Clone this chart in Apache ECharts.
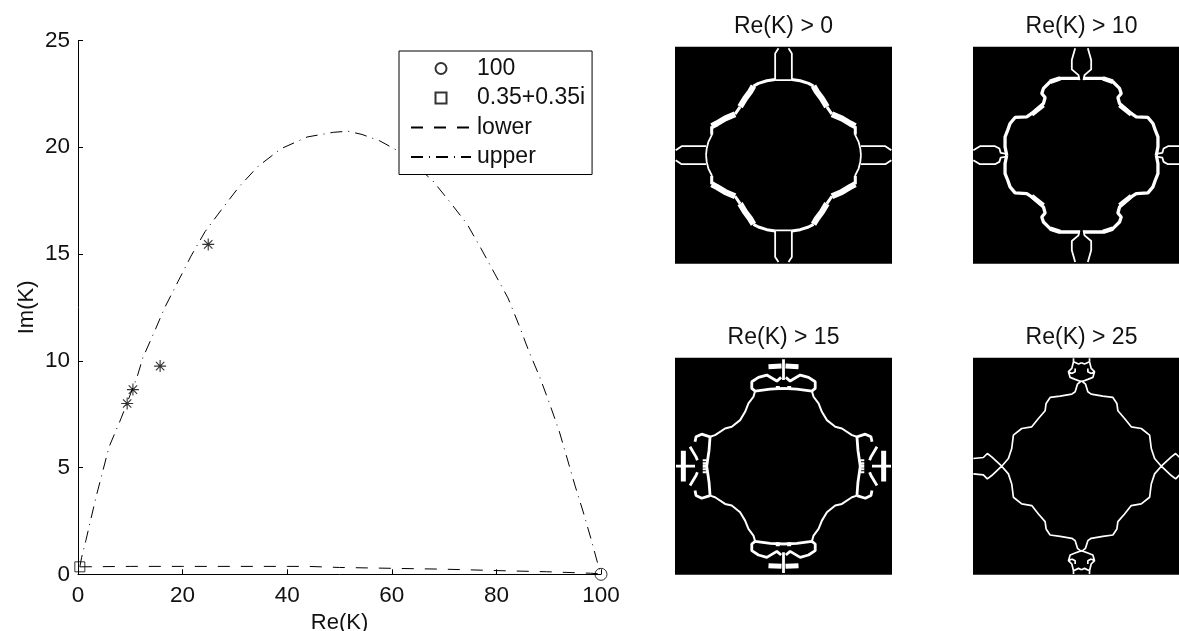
<!DOCTYPE html>
<html><head><meta charset="utf-8">
<style>html,body{margin:0;padding:0;background:#fff;overflow:hidden}#c{width:1179px;height:631px}</style>
<script src="https://cdn.jsdelivr.net/npm/echarts@6/dist/echarts.min.js"></script>
</head><body><div id="c"></div>
<script>
// Main plot: [Re(K), Im(K)]
const upperCurve = [[0.35,0.35],[0.7,0.8],[1.5,1.58],[3.44,3.61],[5.93,5.96],[8.2,7.28],[11.3,9.24],[12.4,10.14],[14.5,11.3],[16.6,12.5],[19.1,13.7],[21.6,14.9],[24.3,16.05],[27.5,17.1],[30.8,18.15],[34.4,19.1],[38.8,19.93],[43.8,20.48],[48.8,20.7],[51.6,20.75],[54.3,20.6],[57.7,20.3],[61.2,19.83],[67.7,18.47],[71.1,17.44],[74.4,16.4],[77.1,15.24],[79.7,14.07],[82.2,12.95],[84.3,11.68],[86.2,10.45],[88.3,9.23],[90.2,7.97],[92,6.71],[93.5,5.45],[95,4.18],[96.6,2.92],[98.1,1.65],[99.6,0.3],[100,0.05]];
const lowerCurve = [[0.35,0.35],[10,0.37],[20,0.37],[30,0.37],[40,0.37],[44,0.37],[50,0.32],[60,0.28],[70,0.24],[80.7,0.17],[89.6,0.12],[98,0.05],[100,0.02]];
const starPoints = [[9.4,8.0],[10.5,8.65],[15.7,9.75],[24.9,15.45]];
const circlePoint = [[100,0]];
const squarePoint = [[0.35,0.35]];
const panelTitles = ['Re(K) > 0','Re(K) > 10','Re(K) > 15','Re(K) > 25'];

// Right-hand panels: one quadrant of the white boundary
const p1Thin = [
  [[0,-225],[-25,-225]],
  [[-215,-87],[-215,-60],[-225,-40],[-230,-20],[-232,0]],
  [[-25,-227],[-25,-305],[-15,-320]],
  [[-232,-27],[-305,-27],[-323,-15]]
];
const p1Mid = [
  [[-25,-227],[-50,-223],[-75,-215],[-90,-207]],
  [[-130,-145],[-145,-123]],
  [[-215,-87],[-215,-62]]
];
const p1Thick = [
  [[-90,-207],[-100,-190],[-115,-170],[-130,-145]],
  [[-145,-123],[-175,-110],[-200,-95],[-215,-87]]
];
const p2Thin = [
  [[-19,-320],[-29,-285],[-29,-257],[-9,-240],[-6,-225]],
  [[-324,-15],[-304,-27],[-259,-27],[-246,-20],[-242,-7],[-229,-5]]
];
const p2Mid = [
  [[-6,-230],[-64,-230],[-94,-220],[-114,-200],[-119,-185],[-109,-173],[-114,-155],[-149,-125],[-164,-115],[-199,-113],[-214,-95],[-221,-75],[-229,-55],[-229,-25],[-224,0]]
];
const p2Thick = [
  [[-64,-230],[-94,-220]],
  [[-114,-150],[-149,-122]]
];
const p3Thin = [
  [[-85,-225],[-90,-208],[-105,-188],[-115,-163],[-130,-138],[-155,-118],[-175,-113],[-205,-93],[-220,-88]],
  [[-242,-18],[-230,-18]],[[-242,-9],[-230,-9]],[[-242,-2],[-230,-2]],
  [[-20,-240],[-20,-228]],[[-14,-240],[-14,-228]]
];
const p3Mid = [
  [[-85,-225],[-40,-231],[0,-233]],
  [[-220,-88],[-223,-48],[-230,0]],
  [[-85,-225],[-95,-233],[-95,-253],[-75,-266],[-50,-273],[-20,-255],[-7,-266]],
  [[-220,-88],[-245,-96],[-262,-88],[-265,-73]],
  [[-280,-58],[-262,-28],[-258,-18]],
  [[0,-320],[0,-258]],
  [[-322,0],[-265,0]]
];
const p3Thick = [
  [[-45,-298],[-6,-300]],
  [[-300,-46],[-300,0]]
];
const p4Thin = [
  [[0,-256],[-12,-246],[-19,-223],[-29,-216],[-64,-210],[-94,-206],[-106,-188],[-109,-166],[-129,-143],[-149,-118],[-179,-113],[-204,-93],[-209,-53],[-219,-23],[-239,0]],
  [[-324,-23],[-294,-26],[-282,-38],[-269,-28],[-239,0]],
  [[0,-253],[-19,-260],[-34,-266],[-39,-283],[-29,-293],[-24,-313],[-24,-323]],
  [[-24,-313],[-9,-306],[0,-310]],
  [[-29,-278],[-19,-283],[-19,-293]],
  [[-39,-283],[-29,-278]]
];
const p4Mid = [];
const p4Thick = [];

const panels = [
  {left:675, top:46.7, sets:[p1Thin,p1Mid,p1Thick], widths:[1.8,3,6]},
  {left:973, top:46.7, sets:[p2Thin,p2Mid,p2Thick], widths:[1.8,3.3,4.5]},
  {left:675, top:357.7, sets:[p3Thin,p3Mid,p3Thick], widths:[2,2.8,5]},
  {left:973, top:357.7, sets:[p4Thin,p4Mid,p4Thick], widths:[1.7,2,2]}
];
const FONT = '"Liberation Sans", Arial, sans-serif';
const INK = '#111';

function mirrored(paths){
  const out = [];
  [[1,1],[-1,1],[1,-1],[-1,-1]].forEach(([sx,sy])=>{
    paths.forEach(p=>{
      p.forEach(([x,y])=>out.push([x*sx,y*sy]));
      out.push([NaN,NaN]);
    });
  });
  return out;
}

const grids = [{left:78, top:40.5, width:523, height:533.8, outerBoundsMode:'none'}];
const xAxes = [{type:'value',min:0,max:100,interval:20,name:'Re(K)',nameLocation:'middle',nameGap:34,
  nameTextStyle:{fontFamily:FONT,fontSize:22,color:INK},
  axisLine:{show:true,onZero:false,lineStyle:{color:'#000',width:1}},
  axisTick:{show:true,inside:true,length:5,lineStyle:{color:'#000',width:1}},
  axisLabel:{fontFamily:FONT,fontSize:22.5,color:INK,margin:10,showMinLabel:true,showMaxLabel:true},
  splitLine:{show:false}}];
const yAxes = [{type:'value',min:0,max:25,interval:5,name:'Im(K)',nameLocation:'middle',nameGap:40,nameRotate:90,
  nameTextStyle:{fontFamily:FONT,fontSize:22,color:INK},
  axisLine:{show:true,onZero:false,lineStyle:{color:'#000',width:1}},
  axisTick:{show:true,inside:true,length:5,lineStyle:{color:'#000',width:1}},
  axisLabel:{fontFamily:FONT,fontSize:22.5,color:INK,margin:8,showMinLabel:true,showMaxLabel:true},
  splitLine:{show:false}}];

const hollow = {color:'rgba(0,0,0,0)',borderColor:'#000',borderWidth:1};
const noMark = {color:'rgba(0,0,0,0)',borderColor:'rgba(0,0,0,0)',borderWidth:0};
const series = [
  {name:'upper',type:'line',data:upperCurve,showSymbol:false,symbol:'none',smooth:false,z:3,
   lineStyle:{color:'#000',width:1,type:[12,6,1,6]},itemStyle:{color:'#000'}},
  {name:'lower',type:'line',data:lowerCurve,showSymbol:false,symbol:'none',z:3,
   lineStyle:{color:'#000',width:1,type:[12,11]},itemStyle:{color:'#000'}},
  {name:'100',type:'scatter',data:circlePoint,symbol:'circle',symbolSize:12,clip:false,itemStyle:hollow,z:4},
  {name:'0.35+0.35i',type:'scatter',data:squarePoint,symbol:'rect',symbolSize:10,clip:false,itemStyle:hollow,z:4},
  {name:'points',type:'scatter',data:starPoints,clip:false,z:4,
   symbol:'path://M0 -10L0 10M-10 0L10 0M-7 -7L7 7M-7 7L7 -7',symbolSize:12,
   itemStyle:{color:'rgba(0,0,0,0)',borderColor:'#000',borderWidth:1.1}}
];
const titles = [];
panels.forEach((p,i)=>{
  const g = i+1;
  grids.push({left:p.left,top:p.top,width:217,height:217,show:true,backgroundColor:'#000',borderWidth:0,outerBoundsMode:'none'});
  xAxes.push({gridIndex:g,type:'value',min:-325,max:325,show:false});
  yAxes.push({gridIndex:g,type:'value',min:-325,max:325,inverse:true,show:false});
  p.sets.forEach((paths,k)=>{
    if(!paths.length) return;
    series.push({type:'line',xAxisIndex:g,yAxisIndex:g,data:mirrored(paths),showSymbol:false,symbol:'none',
      connectNulls:false,lineStyle:{color:'#fff',width:p.widths[k]}});
  });
  titles.push({text:panelTitles[i],left:p.left+108.5,top:p.top-32,textAlign:'center',padding:0,
    textStyle:{fontFamily:FONT,fontSize:23,fontWeight:'normal',color:INK}});
});

const chart = echarts.init(document.getElementById('c'),null,{renderer:'canvas'});
chart.setOption({
  animation:false,
  backgroundColor:'#fff',
  title:titles,
  grid:grids,
  xAxis:xAxes,
  yAxis:yAxes,
  legend:{
    orient:'vertical',left:399,top:51,
    data:[
      {name:'100',icon:'circle'},
      {name:'0.35+0.35i',icon:'path://M0 0H10V10H0Z'},
      {name:'lower',itemStyle:noMark},
      {name:'upper',itemStyle:noMark}
    ],
    itemWidth:60,itemHeight:11,itemGap:6.5,
    padding:[6,7,6,11],
    backgroundColor:'#fff',borderColor:'#000',borderWidth:1,borderRadius:0,
    textStyle:{fontFamily:FONT,fontSize:23,color:INK,padding:[0,0,0,1]},
    selectedMode:false
  },
  series:series
});
</script></body></html>
